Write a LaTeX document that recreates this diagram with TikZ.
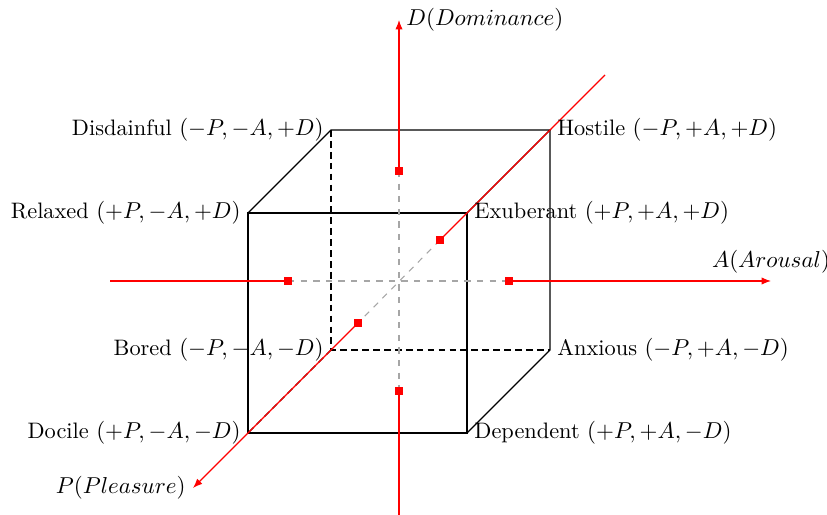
\documentclass[tikz,border=0pt]{standalone}
\usetikzlibrary{arrows.meta}
\begin{document}
\begin{tikzpicture}[x=0.47619pt,y=-0.47619pt,
  edge/.style={draw=black, line width=0.55pt},
  hidden/.style={draw=black, line width=0.55pt, dash pattern=on 3.2pt off 2pt},
  axisline/.style={draw=red, line width=0.55pt},
  inner/.style={draw=gray!70, line width=0.5pt, dashed},
  axisarrow/.style={draw=red, line width=0.55pt, -{Latex[length=4.5pt,width=3.5pt]}},
  sq/.style={rectangle, fill=red, inner sep=0pt, minimum size=3.4pt},
  lab/.style={text=black, font=\fontsize{10.65pt}{13pt}\selectfont}
]
\useasboundingbox (0,0) rectangle (827,515);
% cube corners
\coordinate (RX) at (248,213);
\coordinate (EX) at (467,213);
\coordinate (DC) at (248,433);
\coordinate (DP) at (467,433);
\coordinate (DS) at (331,130);
\coordinate (HS) at (550,130);
\coordinate (BD) at (331,350);
\coordinate (AX) at (550,350);
% axis end points
\coordinate (Aleft) at (110,281);
\coordinate (Aright) at (771,281);
\coordinate (Dbot) at (399,520);
\coordinate (Dtop) at (399,20);
\coordinate (Ptop) at (605,75);
\coordinate (Pbot) at (193,488);
% hidden edges
\draw[hidden] (DS) -- (BD) -- (AX);
\draw[hidden] (BD) -- (DC);
% visible edges
\draw[edge] (RX) -- (EX) -- (DP) -- (DC) -- cycle;
\draw[edge] (RX) -- (DS) -- (HS) -- (EX);
\draw[edge] (HS) -- (AX) -- (DP);
% markers
\node[sq] (a1) at (288,281) {};
\node[sq] (a2) at (509,281) {};
\node[sq] (d1) at (399,171) {};
\node[sq] (d2) at (399,391) {};
\node[sq] (p1) at (440,240) {};
\node[sq] (p2) at (358,323) {};
% inner dashed parts
\draw[inner] (a1.center) -- (a2.center);
\draw[inner] (d1.center) -- (d2.center);
\draw[inner] (p1.center) -- (p2.center);
% axes
\draw[axisline] (Aleft) -- (a1.center);
\draw[axisarrow] (a2.center) -- (Aright);
\draw[axisline] (Dbot) -- (d2.center);
\draw[axisarrow] (d1.center) -- (Dtop);
\draw[axisline] (Ptop) -- (p1.center);
\draw[axisarrow] (p2.center) -- (Pbot);
\node[lab, above] (Alab) at (Aright) {$A(Arousal)$};
\node[lab, right] (Dlab) at (Dtop) {$D(Dominance)$};
\node[lab, left] (Plab) at (Pbot) {$P(Pleasure)$};
% redraw markers on top
\node[sq] at (a1) {};
\node[sq] at (a2) {};
\node[sq] at (d1) {};
\node[sq] at (d2) {};
\node[sq] at (p1) {};
\node[sq] at (p2) {};
% labels
\node[lab, anchor=east] (lDS) at (DS) {Disdainful $(-P,-A,+D)$};
\node[lab, anchor=east] (lRX) at (RX) {Relaxed $(+P,-A,+D)$};
\node[lab, anchor=east] (lBD) at (BD) {Bored $(-P,-A,-D)$};
\node[lab, anchor=east] (lDC) at (DC) {Docile $(+P,-A,-D)$};
\node[lab, anchor=west] (lHS) at (HS) {Hostile $(-P,+A,+D)$};
\node[lab, anchor=west] (lEX) at (EX) {Exuberant $(+P,+A,+D)$};
\node[lab, anchor=west] (lAX) at (AX) {Anxious $(-P,+A,-D)$};
\node[lab, anchor=west] (lDP) at (DP) {Dependent $(+P,+A,-D)$};
\end{tikzpicture}
\end{document}
